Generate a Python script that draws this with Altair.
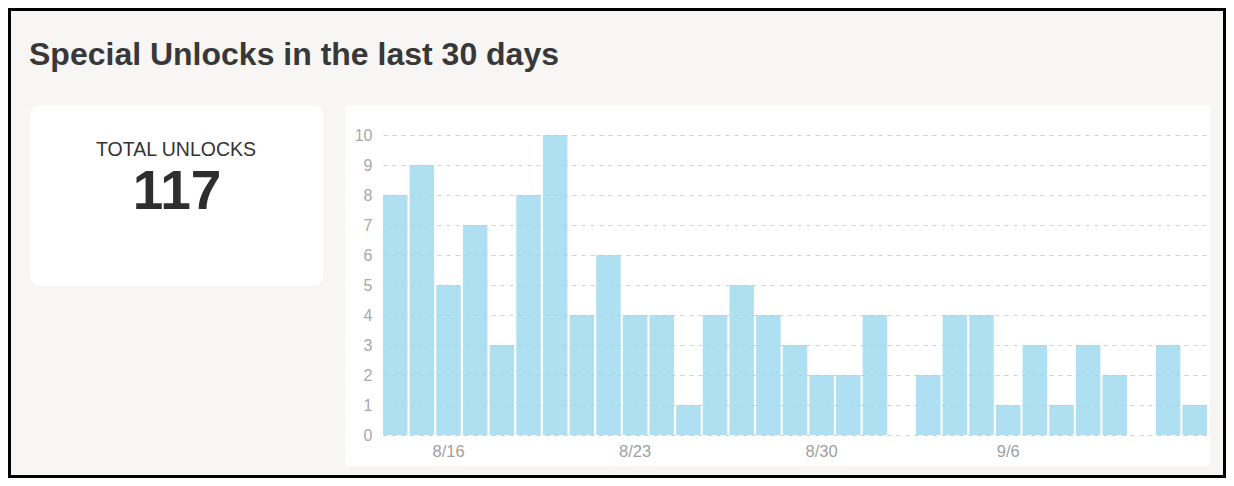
import altair as alt
import pandas as pd

# ---- data ----
dates = ["8/14", "8/15", "8/16", "8/17", "8/18", "8/19", "8/20", "8/21", "8/22", "8/23",
         "8/24", "8/25", "8/26", "8/27", "8/28", "8/29", "8/30", "8/31", "9/1", "9/2",
         "9/3", "9/4", "9/5", "9/6", "9/7", "9/8", "9/9", "9/10", "9/11", "9/12", "9/13"]
unlocks = [8, 9, 5, 7, 3, 8, 10, 4, 6, 4,
           4, 1, 4, 5, 4, 3, 2, 2, 4, 0,
           2, 4, 4, 1, 3, 1, 3, 2, 0, 3, 1]
tick_labels = ["8/16", "8/23", "8/30", "9/6"]
y_ticks = [0, 1, 2, 3, 4, 5, 6, 7, 8, 9, 10]
title_text = "Special Unlocks in the last 30 days"
total_label = "TOTAL UNLOCKS"
total_value = str(sum(unlocks))

df = pd.DataFrame({"date": dates, "unlocks": unlocks})
one = pd.DataFrame({"k": [0]})

W, H = 824, 300
FONT = "Liberation Sans"

# decorative panels (positions relative to the plot origin)
gray_bg = alt.Chart(one).mark_rect(color="#f7f6f4").encode(
    x=alt.value(-372), x2=alt.value(840), y=alt.value(-124), y2=alt.value(340))
left_box = alt.Chart(one).mark_rect(color="#ffffff", cornerRadius=10).encode(
    x=alt.value(-353), x2=alt.value(-60), y=alt.value(-30), y2=alt.value(151))
right_box = alt.Chart(one).mark_rect(color="#ffffff", cornerRadius=4).encode(
    x=alt.value(-38), x2=alt.value(827), y=alt.value(-30), y2=alt.value(331))

title = alt.Chart(pd.DataFrame({"t": [title_text]})).mark_text(
    font=FONT, fontSize=32, fontWeight="bold", color="#383838",
    align="left", baseline="alphabetic").encode(
    x=alt.value(-354), y=alt.value(-70), text="t:N")
lbl = alt.Chart(pd.DataFrame({"t": [total_label]})).mark_text(
    font=FONT, fontSize=19.5, color="#333333", align="center",
    baseline="alphabetic").encode(x=alt.value(-207), y=alt.value(21), text="t:N")
val = alt.Chart(pd.DataFrame({"t": [total_value]})).mark_text(
    font=FONT, fontSize=55, fontWeight="bold", color="#2e2e2e", align="center",
    baseline="alphabetic").encode(x=alt.value(-206), y=alt.value(74), text="t:N")

bars = alt.Chart(df).mark_bar(color="#aee0f2").encode(
    x=alt.X("date:O", sort=dates,
            scale=alt.Scale(paddingInner=0.08, paddingOuter=0.0),
            axis=alt.Axis(title=None, values=tick_labels, labelAngle=0,
                          labelFont=FONT, labelFontSize=16.5, labelColor="#a0a0a0",
                          labelPadding=8, ticks=False, domain=False, grid=False,
                          zindex=1)),
    y=alt.Y("unlocks:Q", scale=alt.Scale(domain=[0, 10], nice=False),
            axis=alt.Axis(title=None, values=y_ticks, labelOverlap=False,
                          labelFont=FONT, labelFontSize=16, labelColor="#a8a8a8",
                          labelPadding=11, ticks=False, domain=False,
                          grid=True, gridColor="#c4c4c4", gridDash=[4, 5],
                          gridOpacity=0.8, zindex=1)),
)

chart = alt.layer(gray_bg, left_box, right_box, title, lbl, val, bars).properties(
    width=W, height=H,
    autosize=alt.AutoSizeParams(type="none"),
    padding={"left": 375, "top": 127, "right": 19, "bottom": 43},
    background="#000000",
).configure_view(stroke=None)

chart.save("out.html", embed_options={"renderer": "svg", "actions": False})
